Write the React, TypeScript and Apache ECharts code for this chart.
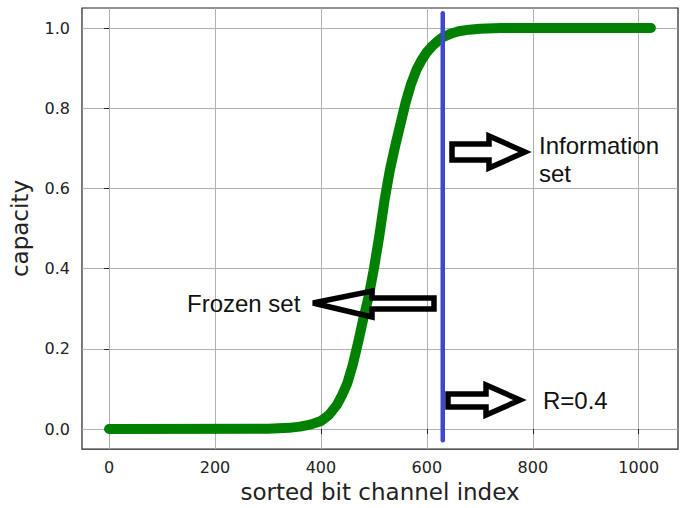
import React, { useEffect, useRef } from "react";
import * as echarts from "echarts";

const xTicks = [0, 200, 400, 600, 800, 1000];
const yTicks = [0, 0.2, 0.4, 0.6, 0.8, 1.0];

const channelIndex = [0, 300, 340, 360, 380, 400, 415, 430, 440, 450, 460, 470, 480, 490, 500, 510, 520, 530, 540, 550, 560, 570, 580, 590, 600, 610, 620, 630, 645, 660, 680, 700, 740, 1023];
const capacity = [0, 0.001, 0.003, 0.006, 0.011, 0.02, 0.035, 0.06, 0.085, 0.115, 0.16, 0.215, 0.275, 0.33, 0.4, 0.48, 0.57, 0.645, 0.705, 0.76, 0.815, 0.86, 0.895, 0.92, 0.94, 0.955, 0.967, 0.977, 0.986, 0.992, 0.996, 0.998, 1.0, 1.0];

const thresholdX = [630, 630];
const thresholdY = [-0.028, 1.037];

const xName = "sorted bit channel index";
const yName = "capacity";
const infoText = ["Information", "set"];
const frozenText = "Frozen set";
const rateText = "R=0.4";

const arrowInfo = [[452, 144], [489, 144], [489, 136], [525, 152], [489, 168], [489, 160], [452, 160]];
const arrowFrozen = [[434, 298], [372, 298], [372, 291], [313, 303], [372, 317], [372, 309], [434, 309]];
const arrowRate = [[448, 394], [486, 394], [486, 385], [520, 400], [486, 415], [486, 407], [448, 407]];

export default function App() {
  const ref = useRef<HTMLDivElement>(null);
  useEffect(() => {
    if (!ref.current) return;
    const chart = echarts.init(ref.current, undefined, { renderer: "svg" });
    const tickFont = { fontFamily: "DejaVu Sans", fontSize: 16, color: "#222" };
    const annFont = "24px 'Liberation Sans', Arial, sans-serif";
    const arrowStyle = { fill: "none", stroke: "#000", lineWidth: 5.5, lineJoin: "miter" };
    chart.setOption({
      animation: false,
      backgroundColor: "#fff",
      grid: { left: 81, top: 8, right: 13, bottom: 56, show: true, borderColor: "#222", borderWidth: 1.2, backgroundColor: "transparent" },
      xAxis: {
        type: "value",
        min: -51.15,
        max: 1074.15,
        name: xName,
        nameLocation: "middle",
        nameGap: 29,
        nameTextStyle: { fontFamily: "DejaVu Sans", fontSize: 23, color: "#222" },
        axisLine: { show: false },
        axisTick: { show: true, customValues: xTicks, length: 5, lineStyle: { color: "#222", width: 1 } },
        axisLabel: { customValues: xTicks, margin: 10, formatter: (v: number) => String(v), ...tickFont },
        splitLine: { show: true, lineStyle: { color: "#b0b0b0", width: 1 } },
      },
      yAxis: {
        type: "value",
        min: -0.05,
        max: 1.05,
        name: yName,
        nameLocation: "middle",
        nameGap: 51,
        nameTextStyle: { fontFamily: "DejaVu Sans", fontSize: 23, color: "#222" },
        axisLine: { show: false },
        axisTick: { show: true, customValues: yTicks, length: 5, lineStyle: { color: "#222", width: 1 } },
        axisLabel: { customValues: yTicks, margin: 12, formatter: (v: number) => v.toFixed(1), ...tickFont },
        splitLine: { show: true, lineStyle: { color: "#b0b0b0", width: 1 } },
      },
      series: [
        {
          type: "line",
          data: channelIndex.map((x, i) => [x, capacity[i]]),
          showSymbol: false,
          smooth: false,
          lineStyle: { color: "#008000", width: 10, cap: "round", join: "round" },
          z: 2,
        },
        {
          type: "line",
          data: thresholdX.map((x, i) => [x, thresholdY[i]]),
          showSymbol: false,
          lineStyle: { color: "#3f48cc", width: 4.5, cap: "round" },
          z: 3,
        },
      ],
      graphic: [
        { type: "polygon", shape: { points: arrowInfo }, style: arrowStyle, z: 10 },
        { type: "polygon", shape: { points: arrowFrozen }, style: arrowStyle, z: 10 },
        { type: "polygon", shape: { points: arrowRate }, style: arrowStyle, z: 10 },
        { type: "text", x: 539, y: 145, style: { text: infoText[0], font: annFont, fill: "#111", verticalAlign: "middle" }, z: 10 },
        { type: "text", x: 539, y: 173, style: { text: infoText[1], font: annFont, fill: "#111", verticalAlign: "middle" }, z: 10 },
        { type: "text", x: 187, y: 303, style: { text: frozenText, font: annFont, fill: "#111", verticalAlign: "middle" }, z: 10 },
        { type: "text", x: 543, y: 400, style: { text: rateText, font: annFont, fill: "#111", verticalAlign: "middle" }, z: 10 },
      ],
    });
    return () => chart.dispose();
  }, []);
  return <div ref={ref} style={{ position: "fixed", left: 0, top: 0, width: 691, height: 508 }} />;
}
